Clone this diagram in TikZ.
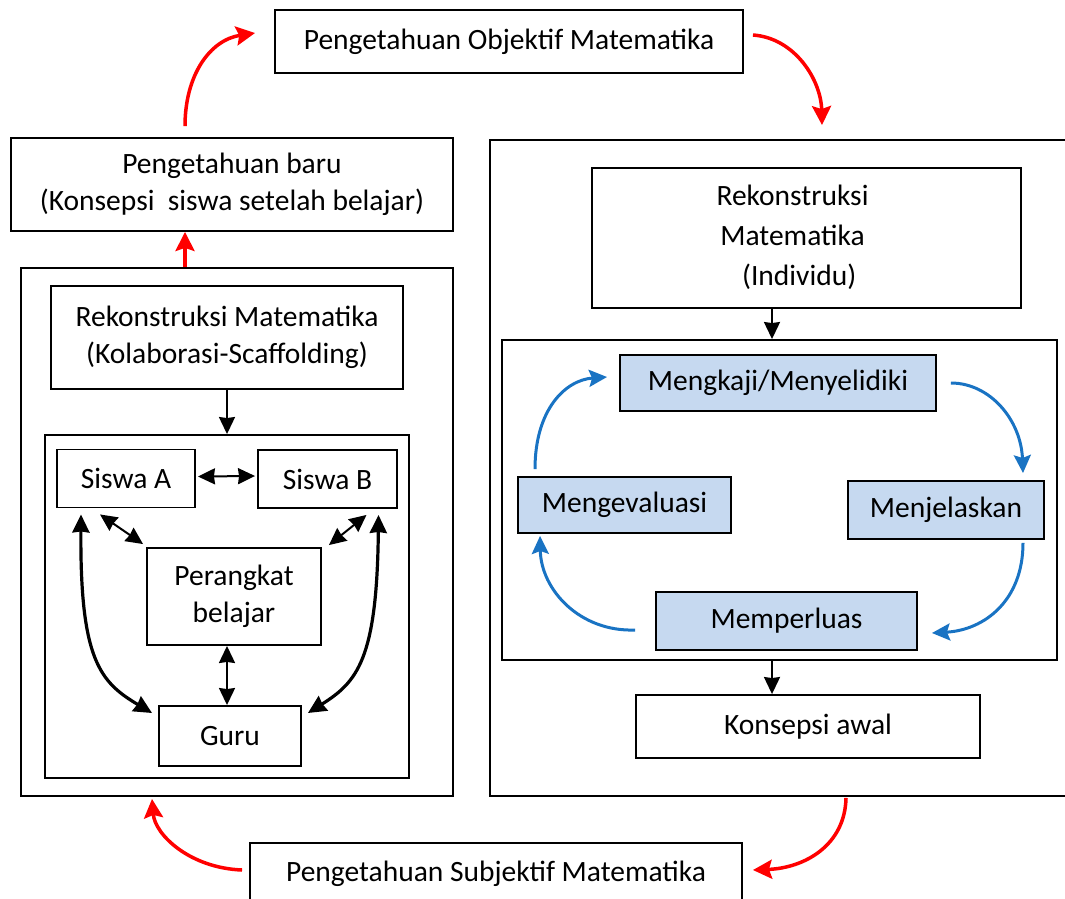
\documentclass[tikz,border=0pt]{standalone}
\usepackage{fontspec}
\setmainfont{Carlito}
\usetikzlibrary{arrows.meta,calc}
\definecolor{redarr}{RGB}{255,0,0}
\definecolor{bluearr}{RGB}{25,115,195}
\definecolor{cyclefill}{RGB}{198,217,240}
\begin{document}
\begin{tikzpicture}[x=1pt,y=-1pt,
  font=\fontsize{29.5}{37}\selectfont,
  box/.style={draw=black, line width=1.9pt, rectangle, inner sep=0pt, align=center},
  cbox/.style={box, fill=cyclefill},
  frame/.style={draw=black, line width=1.9pt, rectangle, inner sep=0pt},
  redarrow/.style={draw=redarr, line width=3.5pt, -{Stealth[length=19pt,width=19pt,inset=3pt]}},
  bluearrow/.style={draw=bluearr, line width=3pt, -{Stealth[length=18pt,width=17pt,inset=3pt]}},
  blkarrow/.style={draw=black, line width=2pt, -{Stealth[length=17pt,width=16pt,inset=1pt]}},
  dblarrow/.style={draw=black, line width=2pt, {Stealth[length=17pt,width=16pt,inset=1pt]}-{Stealth[length=17pt,width=16pt,inset=1pt]}},
  dblthick/.style={draw=black, line width=3.2pt, {Stealth[length=18pt,width=17pt,inset=1pt]}-{Stealth[length=18pt,width=17pt,inset=1pt]}},
]
\useasboundingbox (0,0) rectangle (1065,899);

% top and bottom boxes
\node[box, minimum width=468, minimum height=63] (obj) at (509,41.5) {Pengetahuan Objektif Matematika};
\node[box, minimum width=492, minimum height=62] (subj) at (496,874) {Pengetahuan Subjektif Matematika};

% left side
\node[box, minimum width=442, minimum height=93] (pb) at (232,184.5) {Pengetahuan baru\\(Konsepsi\ \ siswa setelah belajar)};
\node[frame, minimum width=432, minimum height=528] (louter) at (237,532) {};
\node[box, minimum width=352, minimum height=103] (lrek) at (227,337.5) {Rekonstruksi Matematika\\(Kolaborasi-Scaffolding)};
\node[frame, minimum width=364, minimum height=343] (linner) at (227,606.5) {};
\node[box, minimum width=138, minimum height=58] (sa) at (126,478.5) {Siswa A};
\node[box, minimum width=139, minimum height=58] (sb) at (327.5,479) {Siswa B};
\node[box, minimum width=174, minimum height=97] (per) at (234,596.5) {Perangkat\\belajar};
\node[box, minimum width=142, minimum height=60] (guru) at (230,736) {Guru};

% right side
\node[frame, minimum width=577, minimum height=656] (router) at (778.5,468) {};
\node[box, minimum width=429, minimum height=140] (rrek) at (806.5,238) {\begin{tabular}{@{}c@{}}Rekonstruksi\\[3pt]Matematika\\[3pt]\ \ (Individu)\end{tabular}\hspace{28pt}\mbox{}};
\node[frame, minimum width=555, minimum height=320] (cyc) at (779.5,500) {};
\node[cbox, minimum width=316, minimum height=56] (mk) at (778,383) {Mengkaji/Menyelidiki};
\node[cbox, minimum width=213, minimum height=56] (mev) at (624.5,505) {Mengevaluasi};
\node[cbox, minimum width=196, minimum height=58] (mj) at (946,510) {Menjelaskan};
\node[cbox, minimum width=261, minimum height=58] (mp) at (786.5,621) {Memperluas};
\node[box, minimum width=344, minimum height=63] (ka) at (808,726.5) {Konsepsi awal};

% helper coordinates for connector ends
\coordinate (pgA) at ($(per.south)+(-7,0)$);
\coordinate (rrA) at ($(rrek.south)+(-34.5,0)$);
\coordinate (cyA) at ($(cyc.south)+(-7.5,0)$);
\coordinate (loA) at ($(louter.north)+(-52,0)$);

% black arrows, left
\draw[blkarrow] (lrek.south) -- (linner.north);
\draw[dblarrow] ($(sa.east)+(2,-2)$) -- ($(sb.west)+(-2,-3)$);
\draw[dblarrow] (pgA) -- (pgA |- guru.north);
\draw[dblarrow] ($(sa.south)+(-26,6)$) -- ($(per.north west)+(-3,-3)$);
\draw[dblarrow] ($(sb.south)+(39,6)$) -- ($(per.north east)+(7,-2)$);
\draw[dblthick] ($(sa.south)+(-45,6)$) .. controls (80,660) and (100,682) .. ($(guru.west)+(-6,-23)$);
\draw[dblthick] ($(sb.south)+(51,6)$) .. controls (377,660) and (357,682) .. ($(guru.east)+(6,-23)$);

% black arrows, right
\draw[blkarrow] (rrA) -- (rrA |- cyc.north);
\draw[blkarrow] (cyA) -- (cyA |- ka.north);

% blue cycle arrows
\draw[bluearrow] ($(mev.north)+(-89.5,-7)$) .. controls (535,410) and (565,380) .. ($(mk.west)+(-12,-6)$);
\draw[bluearrow] ($(mk.east)+(14,0)$) .. controls (990,383) and (1021,420) .. ($(mj.north)+(77,-7)$);
\draw[bluearrow] ($(mj.south)+(77,3)$) .. controls (1023,600) and (985,630) .. ($(mp.east)+(14,12)$);
\draw[bluearrow] ($(mp.west)+(-20,9)$) .. controls (580,632) and (541,590) .. ($(mev.south)+(-84.5,2)$);

% red arrows
\draw[redarrow] ($(pb.north)+(-47,-11)$) .. controls (185,75) and (210,40) .. ($(obj.west)+(-19,-8.5)$);
\draw[redarrow] ($(obj.east)+(9,-6.5)$) .. controls (795,38) and (821,80) .. ($(router.north)+(43.5,-14)$);
\draw[redarrow] (loA) -- (loA |- pb.south);
\draw[redarrow] ($(router.south)+(67.5,1)$) .. controls (845,845) and (805,868) .. ($(subj.east)+(10,-4)$);
\draw[redarrow] ($(subj.west)+(-7,-4)$) .. controls (190,868) and (155,835) .. ($(louter.south)+(-85,2)$);
\end{tikzpicture}
\end{document}
